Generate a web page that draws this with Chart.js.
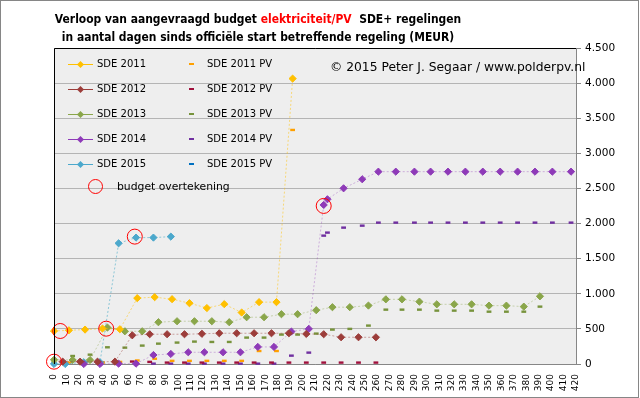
<!DOCTYPE html>
<html>
<head>
<meta charset="utf-8">
<script src="https://cdn.jsdelivr.net/npm/chart.js@4.4.1/dist/chart.umd.min.js"></script>
<style>
  html, body { margin: 0; padding: 0; background: #fff; }
  #wrap { position: relative; width: 640px; height: 398px; font-family: "DejaVu Sans", Verdana, sans-serif; }
  #frame { position: absolute; left: 0; top: 0; width: 639px; height: 398px; box-sizing: border-box; border: 1px solid #868686; pointer-events: none; }
  .title { position: absolute; left: 0; width: 516px; text-align: center; font-weight: bold; font-size: 12.5px; white-space: nowrap; color: #000; transform: scaleX(0.86); transform-origin: 258px 0; }
  .title span.red { color: #ff0000; }
  .copy { position: absolute; left: 330px; top: 60px; font-size: 12.3px; white-space: nowrap; color: #000; }
  .lg { position: absolute; font-size: 10px; line-height: 12px; white-space: nowrap; color: #000; }
  .ln { position: absolute; height: 1px; }
  .dm { position: absolute; width: 5px; height: 5px; transform: rotate(45deg); }
  .ds { position: absolute; width: 5px; height: 2px; }
  .ci { position: absolute; width: 15px; height: 15px; border: 1px solid #ff0000; border-radius: 50%; box-sizing: border-box; }
</style>
</head>
<body>
<div id="wrap">
  <canvas id="chart" width="640" height="398"></canvas>
  <div class="title" style="top:11px">Verloop van aangevraagd budget <span class="red">elektriciteit/PV</span>&nbsp; SDE+ regelingen</div>
  <div class="title" style="top:29px">in aantal dagen sinds officiële start betreffende regeling (MEUR)</div>
  <div class="copy">© 2015 Peter J. Segaar / www.polderpv.nl</div>
  <div id="legend"></div>
  <div id="frame"></div>
</div>
<script>
// dagen sinds start (x) en aangevraagd budget in MEUR (y)
const days2011 = [0, 12, 25, 39, 53, 67, 81, 95, 109, 123, 137, 151, 165, 179, 192];
const sde2011 = [470, 480, 490, 505, 495, 938, 952, 923, 866, 797, 852, 733, 881, 881, 4064];
const daysPv2011 = [0, 12, 25, 39, 53, 67, 81, 95, 109, 123, 137, 151, 165, 179, 192];
const pv2011 = [55, 20, 20, 20, 30, 50, 75, 45, 45, 45, 45, 45, 185, 185, 3333];

const days2012 = [7, 21, 35, 49, 63, 77, 91, 105, 119, 133, 147, 161, 175, 189, 203, 217, 231, 245, 259];
const sde2012 = [33, 33, 33, 33, 409, 424, 424, 424, 430, 438, 438, 438, 438, 438, 428, 424, 381, 381, 380];
const pv2012 = [30, 30, 30, 30, 35, 30, 20, 20, 20, 20, 20, 20, 20, 20, 20, 20, 20, 20, 20];

const days2013 = [0, 15, 29, 43, 57, 71, 84, 99, 113, 127, 141, 155, 169, 183, 196, 211, 224, 238, 253, 267, 280, 294, 308, 322, 336, 350, 364, 378, 391];
const sde2013 = [60, 57, 57, 519, 466, 466, 595, 609, 609, 609, 595, 666, 666, 709, 709, 766, 809, 809, 832, 921, 921, 888, 850, 850, 850, 831, 831, 817, 964];
const pv2013 = [35, 114, 133, 238, 233, 262, 290, 305, 319, 314, 314, 376, 376, 419, 419, 433, 490, 500, 547, 774, 774, 774, 760, 760, 760, 745, 745, 745, 817];

const days2014 = [24, 37, 52, 66, 80, 94, 108, 121, 136, 150, 164, 177, 191, 205, 217, 220, 233, 248, 261, 275, 290, 303, 317, 331, 345, 359, 373, 387, 401, 416];
const sde2014 = [0, 0, 5, 5, 128, 143, 167, 167, 167, 167, 243, 243, 462, 500, 2265, 2346, 2502, 2631, 2739, 2739, 2739, 2739, 2739, 2739, 2739, 2739, 2739, 2739, 2739, 2739];
const pv2014 = [0, 0, 0, 0, 5, 5, 5, 5, 5, 5, 5, 5, 119, 162, 1828, 1871, 1942, 1970, 2013, 2013, 2013, 2013, 2013, 2013, 2013, 2013, 2013, 2013, 2013, 2013];

const days2015 = [0, 9, 24, 37, 52, 66, 80, 94];
const sde2015 = [0, 0, 25, 25, 1719, 1800, 1800, 1814];
const daysPv2015 = [0, 9, 24, 37];
const pv2015 = [10, 5, 5, 5];

// budget overtekening
const overDays = [0, 5, 42, 65, 217];
const overVals = [33, 470, 503, 1814, 2251];

const xTicks = { min: 0, max: 420, step: 10 };
const yTicks = { min: 0, max: 4500, step: 500 };

function pts(xs, ys) {
    return xs.map((x, i) => ({ x: x, y: ys[i] }));
}

function mainSet(label, xs, ys, color, lineColor) {
    return {
        label: label, data: pts(xs, ys), clip: false,
        borderColor: lineColor, borderWidth: 1, borderDash: [2, 2],
        pointStyle: 'rectRot', pointRadius: 3.6, pointBackgroundColor: color,
        pointBorderColor: color, pointBorderWidth: 1, tension: 0
    };
}

function pvSet(label, xs, ys, color) {
    return {
        label: label, data: pts(xs, ys), clip: false, showLine: false,
        pointStyle: 'line', pointRadius: 2.4, pointBorderWidth: 2.4,
        pointBorderColor: color, pointBackgroundColor: color
    };
}

const series = [
    { name: 'SDE 2011', color: '#FFC000', line: 'rgba(255,192,0,0.5)', pv: '#FFA000' },
    { name: 'SDE 2012', color: '#9C3D3A', line: 'rgba(156,61,58,0.45)', pv: '#A0103C' },
    { name: 'SDE 2013', color: '#8AA64A', line: 'rgba(138,166,74,0.4)', pv: '#77933C' },
    { name: 'SDE 2014', color: '#8E3AB8', line: 'rgba(142,58,184,0.35)', pv: '#7030A0' },
    { name: 'SDE 2015', color: '#4BA8CC', line: 'rgba(75,172,198,0.6)', pv: '#0070C0' }
];

const datasets = [
    {
        label: 'budget overtekening', data: pts(overDays, overVals), clip: false, showLine: false,
        pointStyle: 'circle', pointRadius: 7.5, pointBorderWidth: 1,
        pointBorderColor: '#FF0000', pointBackgroundColor: 'rgba(0,0,0,0)'
    },
    mainSet('SDE 2011', days2011, sde2011, series[0].color, series[0].line),
    mainSet('SDE 2012', days2012, sde2012, series[1].color, series[1].line),
    mainSet('SDE 2013', days2013, sde2013, series[2].color, series[2].line),
    mainSet('SDE 2014', days2014, sde2014, series[3].color, series[3].line),
    mainSet('SDE 2015', days2015, sde2015, series[4].color, series[4].line),
    pvSet('SDE 2011 PV', daysPv2011, pv2011, series[0].pv),
    pvSet('SDE 2012 PV', days2012, pv2012, series[1].pv),
    pvSet('SDE 2013 PV', days2013, pv2013, series[2].pv),
    pvSet('SDE 2014 PV', days2014, pv2014, series[3].pv),
    pvSet('SDE 2015 PV', daysPv2015, pv2015, series[4].pv)
];

// legenda als html
const legend = document.getElementById('legend');
const rowY = [64, 89, 114, 139, 164];
series.forEach((s, i) => {
    const y = rowY[i];
    legend.insertAdjacentHTML('beforeend',
        `<div class="ln" style="left:68px;top:${y}px;width:25px;background:${s.color}"></div>` +
        `<div class="dm" style="left:78px;top:${y - 2}px;background:${s.color}"></div>` +
        `<div class="lg" style="left:97px;top:${y - 6}px">${s.name}</div>` +
        `<div class="ds" style="left:189px;top:${y - 1}px;background:${s.pv}"></div>` +
        `<div class="lg" style="left:207px;top:${y - 6}px">${s.name} PV</div>`);
});
legend.insertAdjacentHTML('beforeend',
    `<div class="ci" style="left:88px;top:179px"></div>` +
    `<div class="lg" style="left:117px;top:181px;font-size:10.8px">budget overtekening</div>`);

function nlFormat(v) {
    return String(v).replace(/\B(?=(\d{3})+(?!\d))/g, '.');
}

const plotBg = {
    id: 'plotBg',
    beforeDraw(chart) {
        const { ctx, chartArea: a } = chart;
        ctx.save();
        ctx.fillStyle = '#EEEEEE';
        ctx.fillRect(a.left, a.top, a.right - a.left, a.bottom - a.top);
        ctx.restore();
    },
    afterDraw(chart) {
        const { ctx, chartArea: a } = chart;
        ctx.save();
        ctx.strokeStyle = '#000';
        ctx.lineWidth = 1;
        ctx.beginPath();
        ctx.moveTo(a.left + 0.5, a.bottom);
        ctx.lineTo(a.left + 0.5, a.top + 0.5);
        ctx.lineTo(a.right, a.top + 0.5);
        ctx.stroke();
        ctx.restore();
    }
};

new Chart(document.getElementById('chart'), {
    type: 'line',
    data: { datasets: datasets },
    plugins: [plotBg],
    options: {
        responsive: false,
        animation: false,
        layout: { padding: { left: 54, top: 48, right: 0, bottom: 0 } },
        plugins: { legend: { display: false }, tooltip: { enabled: false }, title: { display: false } },
        scales: {
            x: {
                type: 'linear', min: xTicks.min, max: xTicks.max,
                grid: { display: false },
                border: { color: '#868686' },
                ticks: {
                    stepSize: xTicks.step, autoSkip: false, maxRotation: 90, minRotation: 90,
                    padding: 2, color: '#000', font: { family: 'DejaVu Sans', size: 9 }
                },
                afterFit(scale) { scale.height = 34; }
            },
            y: {
                position: 'right', min: yTicks.min, max: yTicks.max,
                grid: { color: '#B4B4B4', borderDash: [1, 2], tickLength: 5, tickColor: '#868686', tickBorderDash: [] },
                border: { color: '#868686', dash: [] },
                ticks: {
                    stepSize: yTicks.step, padding: 4, color: '#000',
                    font: { family: 'DejaVu Sans', size: 10.5 },
                    callback: v => nlFormat(v)
                },
                afterFit(scale) { scale.width = 64; }
            }
        }
    }
});
</script>
</body>
</html>
